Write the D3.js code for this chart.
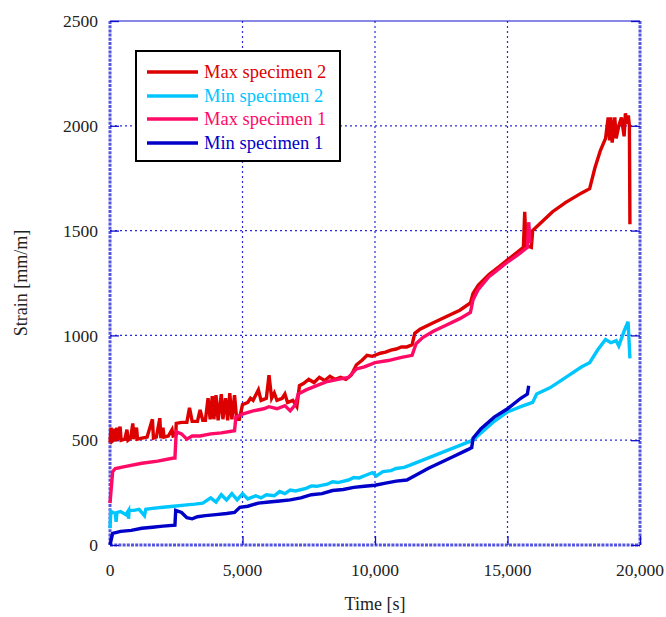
<!DOCTYPE html>
<html>
<head>
<meta charset="utf-8">
<script src="https://cdn.jsdelivr.net/npm/d3@7"></script>
<style>
  html, body { margin: 0; padding: 0; background: #fff; }
  svg { display: block; }
  text { font-family: "Liberation Serif", "Times New Roman", serif; fill: #222; }
</style>
</head>
<body>
<svg id="chart" width="666" height="617"></svg>
<script>
// Strain readings [time s, strain mm/m] for each gauge
const maxSpecimen2 = [
  [0,490],[40,560],[80,495],[120,500],[160,555],[200,495],[260,560],[300,500],[380,565],[420,500],
  [560,505],[640,550],[680,500],[780,510],[860,580],[900,505],[1000,560],[1040,505],[1200,510],[1400,515],
  [1600,600],[1640,510],[1750,515],[1880,605],[1920,510],[2000,560],[2040,515],[2200,520],[2340,550],[2380,520],
  [2480,525],[2500,580],[2700,585],[2900,585],[3000,655],[3100,590],[3300,590],[3400,645],[3500,595],[3600,595],
  [3700,700],[3780,600],[3860,710],[3920,600],[4000,715],[4080,595],[4200,720],[4260,600],[4360,700],[4440,595],
  [4520,725],[4600,600],[4700,715],[4780,600],[4880,600],[5000,670],[5200,680],[5300,700],[5400,690],[5600,740],[5700,690],
  [5900,700],[6000,810],[6100,700],[6200,725],[6300,690],[6500,700],[6600,720],[6700,680],[6900,690],[7050,660],[7150,760],
  [7300,770],[7500,790],[7700,775],[7900,800],[8100,785],[8300,805],[8500,790],[8700,800],[8900,790],[9100,810],
  [9300,860],[9500,880],[9700,905],[9900,900],[10200,915],[10400,920],[10600,930],[10800,935],[11000,945],[11200,945],[11400,955],
  [11500,1010],[11700,1030],[12200,1060],[12700,1090],[13200,1120],[13600,1155],[13700,1200],
  [13900,1240],[14300,1290],[14700,1330],[15000,1360],[15400,1400],[15600,1420],[15650,1590],[15700,1430],[15900,1420],[15950,1500],
  [16200,1530],[16700,1590],[17200,1635],[17800,1680],[18100,1700],[18300,1800],[18500,1880],[18700,1940],[18800,2040],[18850,1930],
  [18900,2040],[18950,1920],[19050,2040],[19100,1940],[19200,2000],[19300,2040],[19400,1950],[19450,2060],[19500,2010],[19560,2050],
  [19600,2000],[19620,1530]
];
const minSpecimen2 = [
  [0,80],[30,160],[200,150],[230,110],[260,155],[400,160],[600,145],[700,165],[700,125],[720,165],[900,165],
  [1100,170],[1300,140],[1350,170],[1600,175],[2000,180],[2400,185],[2800,190],[3200,195],[3500,200],[3800,225],
  [4000,205],[4200,240],[4400,215],[4600,245],[4800,215],[5000,245],[5200,220],[5500,235],[5700,225],[5900,240],[6200,235],
  [6400,255],[6600,245],[6800,262],[7000,258],[7400,270],[7600,282],[7800,280],[8200,290],[8400,302],[8600,298],[9000,310],
  [9200,322],[9400,320],[9700,335],[9900,345],[10050,330],[10300,350],[10600,355],[10800,365],[11100,370],[11300,380],
  [11800,405],[12300,430],[12800,455],[13300,480],[13700,500],[14000,535],
  [14500,590],[15000,635],[15500,660],[15950,680],[16100,720],[16600,750],[17200,800],[17800,850],[18100,870],[18400,930],
  [18700,980],[18900,965],[19100,975],[19200,950],[19400,1020],[19550,1065],[19620,890]
];
const maxSpecimen1 = [
  [0,200],[100,350],[200,365],[600,375],[1200,390],[1800,400],[2400,415],[2450,415],[2500,540],[2700,530],
  [2900,505],[3100,520],[3400,520],[3800,530],[4200,535],[4700,545],[4750,610],[5000,625],[5400,640],[5800,650],
  [6000,660],[6300,650],[6600,665],[6800,640],[7000,670],[7100,720],[7400,740],[7800,760],[8200,780],[8600,790],
  [9000,800],[9300,840],[9600,850],[10000,870],[10500,880],[11000,895],[11400,905],[11550,960],[11800,990],[12200,1020],
  [12700,1050],[13200,1080],[13600,1110],[13700,1170],[13900,1220],[14300,1280],[14700,1320],[15000,1350],[15400,1385],[15650,1410],
  [15750,1420],[15800,1540],[15850,1440]
];
const minSpecimen1 = [
  [0,0],[100,55],[400,65],[800,70],[1200,80],[1600,85],[2000,90],[2450,95],[2480,165],[2700,155],
  [2900,130],[3100,125],[3300,135],[3600,140],[4000,145],[4400,150],[4700,155],[4900,180],[5200,185],[5600,200],
  [6000,205],[6400,210],[6800,215],[7200,225],[7600,240],[8000,245],[8400,260],[8800,265],[9200,275],[9600,280],
  [10000,285],[10400,295],[10800,305],[11200,310],[11500,330],[12000,365],[12500,395],[13000,425],[13500,455],[13650,465],
  [13700,510],[14000,555],[14500,610],[15000,650],[15500,700],[15750,720],[15800,760]
];

const seriesNames = ["Max specimen 2", "Min specimen 2", "Max specimen 1", "Min specimen 1"];
const seriesData = [maxSpecimen2, minSpecimen2, maxSpecimen1, minSpecimen1];
const seriesColors = ["#dd0000", "#00c6ff", "#ff0a66", "#0000c8"];

const xTicks = [0, 5000, 10000, 15000, 20000];
const yTicks = [0, 500, 1000, 1500, 2000, 2500];
const xTitle = "Time [s]";
const yTitle = "Strain [mm/m]";

// Plot frame
const mLeft = 110, mRight = 640, mTop = 21, mBottom = 545;
const svg = d3.select("#chart");

const x = d3.scaleLinear().domain([0, 20000]).range([mLeft, mRight]);
const y = d3.scaleLinear().domain([0, 2500]).range([mBottom, mTop]);

const gridColor = "#2a2ad8";

// dotted grid
svg.append("g").selectAll("line").data(yTicks.slice(1, -1)).join("line")
  .attr("x1", mLeft).attr("x2", mRight)
  .attr("y1", d => y(d)).attr("y2", d => y(d))
  .attr("stroke", gridColor).attr("stroke-width", 1.2).attr("stroke-dasharray", "2,3");
svg.append("g").selectAll("line").data(xTicks.slice(1, -1)).join("line")
  .attr("y1", mTop).attr("y2", mBottom)
  .attr("x1", d => x(d)).attr("x2", d => x(d))
  .attr("stroke", gridColor).attr("stroke-width", 1.2).attr("stroke-dasharray", "2,3");

// frame: top solid, the other three with dense minor ticks
svg.append("line").attr("x1", mLeft).attr("x2", mRight).attr("y1", mTop).attr("y2", mTop)
  .attr("stroke", "#1010cc").attr("stroke-width", 1.2);
const minorStyle = sel => sel.attr("stroke", "#5555e0").attr("stroke-width", 3).attr("stroke-dasharray", "3,1.2");
svg.append("line").attr("x1", mLeft).attr("x2", mLeft).attr("y1", mTop).attr("y2", mBottom).call(minorStyle);
svg.append("line").attr("x1", mRight).attr("x2", mRight).attr("y1", mTop).attr("y2", mBottom).call(minorStyle);
svg.append("line").attr("x1", mLeft).attr("x2", mRight).attr("y1", mBottom).attr("y2", mBottom).call(minorStyle);

// major ticks pointing inward
const yAxisL = d3.axisLeft(y).tickValues(yTicks).tickSize(-9).tickFormat("");
const yAxisR = d3.axisRight(y).tickValues(yTicks).tickSize(-9).tickFormat("");
const xAxisB = d3.axisBottom(x).tickValues(xTicks).tickSize(-9).tickFormat("");
[ [yAxisL, `translate(${mLeft},0)`], [yAxisR, `translate(${mRight},0)`], [xAxisB, `translate(0,${mBottom})`] ]
  .forEach(([ax, tr]) => {
    const g = svg.append("g").attr("transform", tr).call(ax);
    g.select(".domain").remove();
    g.selectAll(".tick line").attr("stroke", "#1010cc").attr("stroke-width", 1.3);
  });

// tick labels
svg.append("g").selectAll("text").data(yTicks).join("text")
  .attr("x", 98).attr("y", d => y(d)).attr("dy", "0.35em")
  .attr("text-anchor", "end").attr("font-size", 17.5)
  .text(d => d);
svg.append("g").selectAll("text").data(xTicks).join("text")
  .attr("x", d => x(d)).attr("y", 576)
  .attr("text-anchor", "middle").attr("font-size", 17.5)
  .text(d => d3.format(",")(d));

// axis titles
svg.append("text").attr("x", (mLeft + mRight) / 2).attr("y", 610)
  .attr("text-anchor", "middle").attr("font-size", 18).text(xTitle);
svg.append("text").attr("transform", `translate(27,${(mTop + mBottom) / 2}) rotate(-90)`)
  .attr("text-anchor", "middle").attr("font-size", 18).text(yTitle);

// data lines
const line = d3.line().x(d => x(d[0])).y(d => y(d[1]));
const plot = svg.append("g");
seriesData.forEach((data, i) => {
  plot.append("path").datum(data)
    .attr("d", line)
    .attr("fill", "none")
    .attr("stroke", seriesColors[i])
    .attr("stroke-width", 3.4)
    .attr("stroke-linejoin", "miter");
});

// legend
const lg = svg.append("g");
lg.append("rect").attr("x", 136).attr("y", 51).attr("width", 204).attr("height", 110)
  .attr("fill", "#fff").attr("stroke", "#000").attr("stroke-width", 2);
const rowY = [72, 96, 119, 143];
seriesNames.forEach((name, i) => {
  lg.append("line").attr("x1", 147).attr("x2", 198).attr("y1", rowY[i]).attr("y2", rowY[i])
    .attr("stroke", seriesColors[i]).attr("stroke-width", 3.5);
  lg.append("text").attr("x", 204).attr("y", rowY[i]).attr("dy", "0.35em")
    .attr("font-size", 18.5).style("fill", seriesColors[i]).text(name);
});
</script>
</body>
</html>
